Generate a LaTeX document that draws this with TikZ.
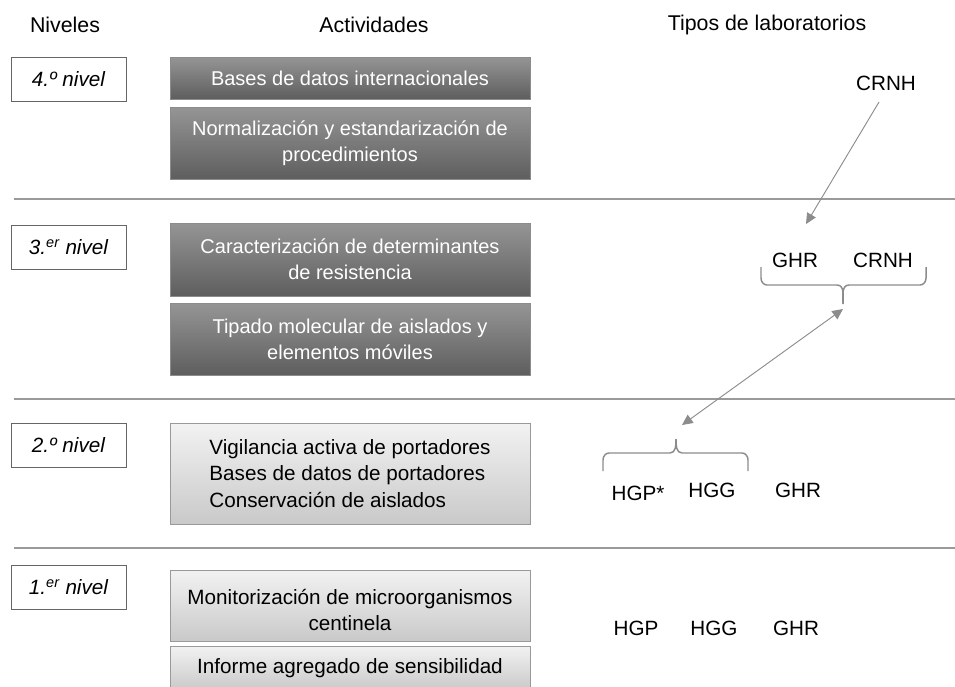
\documentclass[tikz,border=0pt]{standalone}
\usepackage{fontspec}
\setmainfont{Liberation Sans}
\usetikzlibrary{arrows.meta,decorations.pathreplacing}
\definecolor{linegray}{HTML}{9A9A9A}
\definecolor{arrowgray}{HTML}{8C8C8C}
\definecolor{darktop}{HTML}{959595}
\definecolor{darkbot}{HTML}{5E5E5E}
\definecolor{lighttop}{HTML}{F2F2F2}
\definecolor{lightbot}{HTML}{C9C9C9}
\tikzset{
  base/.style={font=\fontsize{15.5}{20}\selectfont, align=center, inner sep=0pt},
  head/.style={base, font=\fontsize{16}{20}\selectfont},
  levelbox/.style={base, draw=black!60, fill=white, line width=0.6pt, minimum width=86.25pt, minimum height=33pt, font=\fontsize{15.5}{20}\selectfont\itshape},
  darkact/.style={base, font=\fontsize{15}{19.5}\selectfont, draw=black!45, top color=darktop, bottom color=darkbot, text=white, minimum width=270pt, line width=0.5pt},
  lightact/.style={base, draw=black!40, top color=lighttop, bottom color=lightbot, text=black, minimum width=270pt, line width=0.5pt},
  sepline/.style={draw=linegray, line width=1pt},
  lab/.style={base},
  conn/.style={draw=arrowgray, line width=0.7pt, -{Triangle[length=8pt,width=7.5pt]}},
  dconn/.style={draw=arrowgray, line width=0.7pt, {Triangle[length=8pt,width=7.5pt]}-{Triangle[length=8pt,width=7.5pt]}},
  bracestyle/.style={draw=arrowgray, line width=1.1pt}
}
\begin{document}
\begin{tikzpicture}[x=0.75pt,y=-0.75pt]
\useasboundingbox (0,0) rectangle (955,686);
\clip (0,0) rectangle (955,686);
% headers
\node[head] (hniv) at (65,25) {Niveles};
\node[head] (hact) at (374,25) {Actividades};
\node[head] (htip) at (767,25) {Tipos de laboratorios};
% separators
\coordinate (s1a) at (14,199); \coordinate (s1b) at (955,199);
\coordinate (s2a) at (14,399); \coordinate (s2b) at (955,399);
\coordinate (s3a) at (14,548); \coordinate (s3b) at (955,548);
\draw[sepline] (s1a) -- (s1b);
\draw[sepline] (s2a) -- (s2b);
\draw[sepline] (s3a) -- (s3b);
% level boxes
\node[levelbox] (l4) at (68.5,79) {4.º nivel};
\node[levelbox] (l3) at (68.5,247.5) {3.\textsuperscript{er} nivel};
\node[levelbox] (l2) at (68.5,445.5) {2.º nivel};
\node[levelbox] (l1) at (68.5,587) {1.\textsuperscript{er} nivel};
% activities
\node[darkact, minimum height=31.5pt] (a1) at (350,78) {Bases de datos internacionales};
\node[darkact, minimum height=54pt] (a2) at (350,143) {Normalización y estandarización de\\procedimientos};
\node[darkact, minimum height=54.75pt] (a3) at (350,259.5) {Caracterización de determinantes\\de resistencia};
\node[darkact, minimum height=54pt] (a4) at (350,339) {Tipado molecular de aislados y\\elementos móviles};
\node[lightact, minimum height=75.75pt, align=left] (a5) at (350,473.5) {Vigilancia activa de portadores\\Bases de datos de portadores\\Conservación de aislados};
\node[lightact, minimum height=53.25pt] (a6) at (350,605.5) {};
\node[base] (a6t) at (350,610) {Monitorización de microorganismos\\centinela};
\node[lightact, minimum height=33pt] (a7) at (350,668) {Informe agregado de sensibilidad};
% lab types
\node[lab] (crnhtop) at (886,83) {CRNH};
\node[lab] (ghr3) at (795,260) {GHR};
\node[lab] (crnh3) at (883,260) {CRNH};
\node[lab] (hgps) at (638,493) {HGP*};
\node[lab] (hgg2) at (712,490) {HGG};
\node[lab] (ghr2) at (798,490) {GHR};
\node[lab] (hgp1) at (636,628) {HGP};
\node[lab] (hgg1) at (714,628) {HGG};
\node[lab] (ghr1) at (796,628) {GHR};
% braces
\coordinate (b3l) at (761,267); \coordinate (b3r) at (926,267); \coordinate (b3tip) at (843,304);
\draw[bracestyle] (b3l) -- ++(0,11) to[out=-90,in=180] ++(6,7) -- (837,285) to[out=0,in=90] (b3tip);
\draw[bracestyle] (b3r) -- ++(0,11) to[out=-90,in=0] ++(-6,7) -- (849,285) to[out=180,in=90] (b3tip);
\coordinate (b2l) at (603,471); \coordinate (b2r) at (748,471); \coordinate (b2tip) at (676,439);
\draw[bracestyle] (b2l) -- ++(0,-11) to[out=90,in=180] ++(6,-7) -- (670,453) to[out=0,in=-90] (b2tip);
\draw[bracestyle] (b2r) -- ++(0,-11) to[out=90,in=0] ++(-6,-7) -- (682,453) to[out=180,in=-90] (b2tip);
% arrows
\coordinate (arr1end) at (806,224);
\draw[conn] (crnhtop) ++(-7,19) -- (arr1end);
\coordinate (d1) at (843,309); \coordinate (d2) at (682,425);
\draw[dconn] (d2) -- (d1);
\end{tikzpicture}
\end{document}
